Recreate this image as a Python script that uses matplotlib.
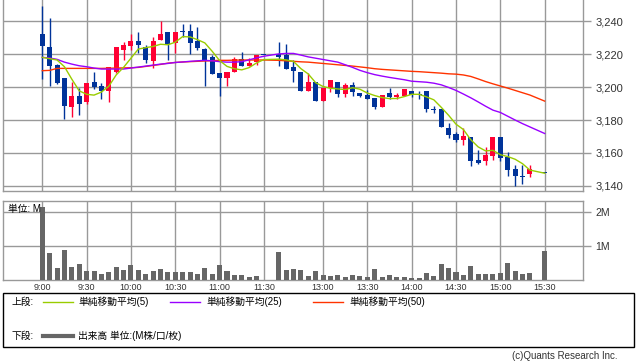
import matplotlib
matplotlib.use("Agg")
import matplotlib.pyplot as plt
from matplotlib.lines import Line2D
from matplotlib.patches import Rectangle
from matplotlib.ticker import FuncFormatter
import pandas as pd

plt.rcParams["font.family"] = ["Liberation Sans", "Noto Sans CJK JP"]


def slot_times(start, end):
    return [f"{m // 60}:{m % 60:02d}" for m in range(start, end + 1, 5)]


# 5-minute slots, one blank slot between the sessions
slots = slot_times(540, 690) + [""] + slot_times(750, 930)
times = [t for t in slots if t not in ("", "15:25")]

opens = [3232.3, 3224.4, 3213.4, 3205.5, 3188.1, 3194.6, 3191.1, 3203.1, 3200.6, 3197.8,
         3209.4, 3222.6, 3225.0, 3228.0, 3224.4, 3215.9, 3228.6, 3233.5, 3227.0, 3234.3,
         3234.0, 3228.0, 3223.2, 3218.1, 3208.8, 3205.5, 3208.9, 3216.9, 3213.0, 3215.2,
         3219.6,
         3219.9, 3219.5, 3212.4, 3209.4, 3197.8, 3203.1, 3191.7, 3199.4, 3203.1, 3195.8,
         3201.3, 3196.2, 3195.2, 3193.1, 3188.1, 3196.6, 3194.1, 3194.8, 3197.6, 3195.4,
         3197.8, 3186.6, 3186.4, 3175.3, 3171.4, 3168.0, 3169.8, 3155.4, 3155.2, 3158.0,
         3169.6, 3157.2, 3150.1, 3145.6, 3147.1, 3147.5]
highs = [3249.5, 3242.0, 3214.0, 3205.5, 3203.3, 3199.2, 3202.5, 3209.2, 3202.3, 3212.2,
         3224.4, 3227.6, 3232.5, 3233.5, 3225.6, 3230.5, 3240.0, 3233.5, 3233.5, 3238.4,
         3238.4, 3236.6, 3224.0, 3219.7, 3208.8, 3209.2, 3218.5, 3221.3, 3217.5, 3219.7,
         3219.6,
         3227.4, 3226.2, 3216.5, 3209.4, 3208.5, 3203.1, 3199.4, 3204.5, 3203.1, 3202.3,
         3203.1, 3196.6, 3198.2, 3193.1, 3195.2, 3199.2, 3196.6, 3198.6, 3197.6, 3197.8,
         3197.8, 3188.5, 3186.4, 3177.9, 3172.8, 3174.9, 3169.8, 3161.7, 3163.7, 3169.6,
         3169.6, 3160.3, 3152.6, 3152.6, 3152.6, 3147.5]
lows = [3204.9, 3200.6, 3202.0, 3180.4, 3182.0, 3183.0, 3190.0, 3198.6, 3193.0, 3191.1,
        3208.8, 3216.5, 3222.6, 3221.0, 3214.4, 3211.8, 3228.6, 3216.5, 3221.0, 3230.7,
        3220.0, 3222.6, 3200.8, 3207.9, 3194.5, 3200.6, 3208.9, 3213.0, 3213.0, 3213.2,
        3219.4,
        3213.0, 3211.0, 3202.9, 3197.4, 3197.8, 3191.3, 3191.7, 3197.2, 3193.7, 3194.0,
        3194.6, 3194.2, 3192.9, 3186.4, 3188.1, 3192.9, 3192.9, 3194.8, 3193.7, 3192.5,
        3185.0, 3184.0, 3175.9, 3168.8, 3166.8, 3164.7, 3152.2, 3153.0, 3152.6, 3155.6,
        3155.2, 3146.1, 3140.0, 3140.8, 3145.1, 3147.5]
closes = [3225.2, 3213.0, 3202.7, 3188.5, 3194.6, 3189.9, 3202.5, 3200.2, 3197.8, 3212.2,
          3224.4, 3225.6, 3228.0, 3225.6, 3216.5, 3228.0, 3232.3, 3226.4, 3233.5, 3233.5,
          3227.0, 3224.0, 3216.5, 3207.9, 3205.5, 3209.2, 3216.9, 3213.0, 3214.8, 3219.7,
          3219.4,
          3218.1, 3211.0, 3210.0, 3197.8, 3203.1, 3191.7, 3199.4, 3204.5, 3195.8, 3201.3,
          3197.2, 3194.8, 3192.9, 3188.1, 3195.2, 3194.1, 3195.2, 3198.6, 3195.2, 3195.0,
          3186.4, 3186.2, 3175.9, 3170.8, 3168.0, 3170.2, 3155.2, 3154.0, 3158.7, 3169.6,
          3157.0, 3149.5, 3145.9, 3145.2, 3150.1, 3147.5]
prev_closes = [3217.0, 3206.7, 3209.0, 3232.6]

ma25 = [3218.1, 3217.7, 3216.9, 3215.2, 3214.0, 3213.0, 3212.4, 3211.6, 3211.0, 3211.0,
        3211.0, 3211.0, 3211.6, 3212.2, 3212.8, 3213.4, 3214.0, 3214.4, 3215.0, 3215.3,
        3215.7, 3216.0, 3216.3, 3216.0, 3215.5, 3215.2, 3215.2, 3215.5, 3216.6, 3217.8,
        3218.8,
        3220.2, 3220.5, 3220.5, 3219.5, 3218.4, 3217.6, 3216.8, 3216.0, 3215.2, 3213.6,
        3212.0, 3210.2, 3208.8, 3207.6, 3206.7, 3205.9, 3205.2, 3204.5, 3203.6, 3203.3,
        3203.0, 3202.4, 3201.4, 3199.8, 3198.0, 3195.8, 3193.5, 3191.0, 3188.4, 3186.0,
        3184.6, 3182.3, 3180.0, 3177.8, 3175.8, 3171.8]
ma50 = [3210.0, 3210.2, 3211.4, 3211.4, 3211.4, 3211.4, 3211.4, 3211.4, 3211.4, 3211.5,
        3211.6, 3211.7, 3211.8, 3212.0, 3212.6, 3213.2, 3213.8, 3214.6, 3215.0, 3215.3,
        3215.5, 3215.7, 3215.9, 3216.1, 3216.3, 3216.3, 3216.4, 3216.5, 3216.5, 3216.5,
        3216.5,
        3216.3, 3216.0, 3215.7, 3215.4, 3215.2, 3214.8, 3214.4, 3214.0, 3213.6, 3213.2,
        3212.8, 3212.3, 3211.8, 3211.2, 3210.8, 3210.5, 3210.2, 3209.9, 3209.6, 3209.4,
        3209.1, 3208.8, 3208.5, 3208.1, 3207.9, 3207.4, 3206.5, 3205.0, 3203.4, 3202.0,
        3200.7, 3199.4, 3198.0, 3196.6, 3195.2, 3191.5]

volumes = [2.15, 0.80, 0.35, 0.88, 0.38, 0.47, 0.26, 0.26, 0.18, 0.24,
           0.38, 0.29, 0.44, 0.29, 0.18, 0.26, 0.32, 0.24, 0.24, 0.24,
           0.24, 0.18, 0.35, 0.18, 0.44, 0.26, 0.15, 0.15, 0.10, 0.12,
           0.01,
           0.82, 0.29, 0.32, 0.29, 0.12, 0.26, 0.15, 0.12, 0.15, 0.09,
           0.15, 0.12, 0.09, 0.32, 0.09, 0.15, 0.09, 0.09, 0.06, 0.06,
           0.21, 0.12, 0.47, 0.35, 0.24, 0.15, 0.41, 0.18, 0.18, 0.18,
           0.21, 0.50, 0.26, 0.18, 0.21, 0.85]

tick_labels = ["9:00", "9:30", "10:00", "10:30", "11:00", "11:30",
               "13:00", "13:30", "14:00", "14:30", "15:00", "15:30"]

UP, DOWN = "#ff0033", "#003399"
GRID = "#999999"

x = [slots.index(t) for t in times]
ticks = [slots.index(t) for t in tick_labels]
ma5 = pd.Series(prev_closes + closes).rolling(5).mean().iloc[len(prev_closes):].values

W, H = 638, 362


def box(l, t, r, b):
    return [l / W, 1 - b / H, (r - l) / W, (b - t) / H]


fig = plt.figure(figsize=(W / 100, H / 100), dpi=100)
ax = fig.add_axes(box(3.3, 0, 582.7, 190.7))
axv = fig.add_axes(box(3.3, 201, 582.7, 280))

# candles
for xi, o, h, l, c in zip(x, opens, highs, lows, closes):
    col = UP if c > o else DOWN
    ax.vlines(xi, l, h, color=col, lw=1, zorder=3)
    ax.bar(xi, max(abs(c - o), 0.6), bottom=min(o, c), width=0.68,
           color=col, lw=0, zorder=3)

ax.plot(x, ma50, color="#ff3300", lw=1, zorder=4)
ax.plot(x, ma25, color="#9900ff", lw=1, zorder=4)
ax.plot(x, ma5, color="#99cc00", lw=1, zorder=4)

ax.set_xlim(-5.28, 73.15)
ax.set_ylim(3137, 3253)
ax.set_yticks(range(3140, 3241, 20))
ax.yaxis.set_major_formatter(FuncFormatter(lambda v, _: f"{v:,.0f}"))
ax.set_xticks(ticks)

# volume
axv.bar(x, volumes, width=0.68, color="#666666", lw=0, zorder=3)
axv.set_xlim(-5.28, 73.15)
axv.set_ylim(0, 2.32)
axv.set_yticks([1, 2])
axv.set_yticklabels(["1M", "2M"])
axv.set_xticks(ticks)
axv.set_xticklabels(tick_labels)

for a in (ax, axv):
    a.yaxis.tick_right()
    a.grid(color=GRID, lw=1)
    a.set_axisbelow(True)
    for s in a.spines.values():
        s.set_color(GRID)
        s.set_linewidth(1)
    a.tick_params(axis="y", length=6, width=1, color=GRID, pad=3,
                  labelsize=8, labelcolor="#333333")
    a.tick_params(axis="x", length=0, pad=2, labelsize=6.5, labelcolor="#333333")
ax.spines["top"].set_visible(False)
ax.tick_params(axis="x", labelbottom=False)
axv.tick_params(axis="y", labelsize=7.5)

fig.text(8.3 / W, 1 - 209 / H, "単位: M", fontsize=7, va="center", zorder=10)

# legend box
fig.add_artist(Rectangle((3 / W, 1 - 347 / H), 631 / W, 54 / H,
                         transform=fig.transFigure, fill=False, ec="black", lw=1))


def legend_item(x0, y, color, lw, label):
    fig.add_artist(Line2D([x0 / W, (x0 + 30) / W], [1 - y / H, 1 - y / H],
                          color=color, lw=lw, transform=fig.transFigure))
    fig.text((x0 + 36) / W, 1 - y / H, label, fontsize=7, va="center")


fig.text(11 / W, 1 - 302 / H, "上段:", fontsize=7, va="center")
legend_item(42.5, 302, "#99cc00", 1, "単純移動平均(5)")
legend_item(170, 302, "#9900ff", 1, "単純移動平均(25)")
legend_item(313, 302, "#ff3300", 1, "単純移動平均(50)")
fig.text(11 / W, 1 - 336 / H, "下段:", fontsize=7, va="center")
legend_item(42.5, 336, "#666666", 3, "出来高 単位:(M株/口/枚)")

fig.text(617 / W, 1 - 356 / H, "(c)Quants Research Inc.", fontsize=7,
         ha="right", va="center", color="#333333")

fig.savefig("out.png", dpi=100)
